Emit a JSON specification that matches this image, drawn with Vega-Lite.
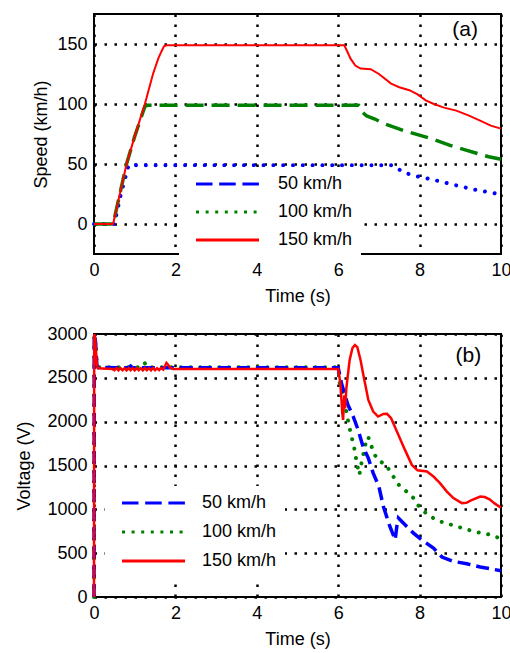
{
  "$schema": "https://vega.github.io/schema/vega-lite/v6.json",
  "padding": {"left": 14, "top": 13, "right": 0, "bottom": 0},
  "spacing": 18,
  "resolve": {
    "scale": {"color": "independent", "strokeDash": "independent", "strokeWidth": "independent"},
    "legend": {"color": "independent", "strokeDash": "independent", "strokeWidth": "independent"}
  },
  "datasets": {
    "speed": [
      {"s": "50 km/h", "t": 0, "v": 0}, {"s": "50 km/h", "t": 0.5, "v": 0}, {"s": "50 km/h", "t": 0.66, "v": 25}, {"s": "50 km/h", "t": 0.85, "v": 49},
      {"s": "50 km/h", "t": 7.3, "v": 49}, {"s": "50 km/h", "t": 7.45, "v": 46.5}, {"s": "50 km/h", "t": 7.6, "v": 43}, {"s": "50 km/h", "t": 7.9, "v": 40},
      {"s": "50 km/h", "t": 8.3, "v": 37.2}, {"s": "50 km/h", "t": 8.8, "v": 33}, {"s": "50 km/h", "t": 9.3, "v": 29}, {"s": "50 km/h", "t": 9.7, "v": 26.5}, {"s": "50 km/h", "t": 10, "v": 24.5},
      {"s": "100 km/h", "t": 0, "v": 0}, {"s": "100 km/h", "t": 0.47, "v": 0}, {"s": "100 km/h", "t": 0.8, "v": 50}, {"s": "100 km/h", "t": 1.0, "v": 73},
      {"s": "100 km/h", "t": 1.25, "v": 98}, {"s": "100 km/h", "t": 1.32, "v": 99}, {"s": "100 km/h", "t": 6.5, "v": 99}, {"s": "100 km/h", "t": 6.56, "v": 97},
      {"s": "100 km/h", "t": 6.6, "v": 93}, {"s": "100 km/h", "t": 6.7, "v": 90}, {"s": "100 km/h", "t": 6.9, "v": 87.5}, {"s": "100 km/h", "t": 7.1, "v": 84},
      {"s": "100 km/h", "t": 7.3, "v": 81.5}, {"s": "100 km/h", "t": 7.6, "v": 78}, {"s": "100 km/h", "t": 7.95, "v": 74.5}, {"s": "100 km/h", "t": 8.3, "v": 71},
      {"s": "100 km/h", "t": 8.75, "v": 65.5}, {"s": "100 km/h", "t": 9.1, "v": 62}, {"s": "100 km/h", "t": 9.4, "v": 59}, {"s": "100 km/h", "t": 9.7, "v": 56}, {"s": "100 km/h", "t": 10, "v": 54},
      {"s": "150 km/h", "t": 0, "v": 0}, {"s": "150 km/h", "t": 0.47, "v": 0}, {"s": "150 km/h", "t": 0.8, "v": 50}, {"s": "150 km/h", "t": 1.0, "v": 73},
      {"s": "150 km/h", "t": 1.25, "v": 100}, {"s": "150 km/h", "t": 1.45, "v": 125}, {"s": "150 km/h", "t": 1.58, "v": 138}, {"s": "150 km/h", "t": 1.66, "v": 144},
      {"s": "150 km/h", "t": 1.72, "v": 148}, {"s": "150 km/h", "t": 1.79, "v": 149}, {"s": "150 km/h", "t": 6.15, "v": 149}, {"s": "150 km/h", "t": 6.22, "v": 144},
      {"s": "150 km/h", "t": 6.3, "v": 138}, {"s": "150 km/h", "t": 6.42, "v": 132}, {"s": "150 km/h", "t": 6.55, "v": 129.5}, {"s": "150 km/h", "t": 6.8, "v": 129},
      {"s": "150 km/h", "t": 7.0, "v": 125}, {"s": "150 km/h", "t": 7.3, "v": 117}, {"s": "150 km/h", "t": 7.5, "v": 114}, {"s": "150 km/h", "t": 7.75, "v": 111.5},
      {"s": "150 km/h", "t": 7.95, "v": 108}, {"s": "150 km/h", "t": 8.15, "v": 103}, {"s": "150 km/h", "t": 8.35, "v": 100}, {"s": "150 km/h", "t": 8.6, "v": 97},
      {"s": "150 km/h", "t": 8.9, "v": 94.5}, {"s": "150 km/h", "t": 9.2, "v": 90.5}, {"s": "150 km/h", "t": 9.5, "v": 86}, {"s": "150 km/h", "t": 9.75, "v": 82}, {"s": "150 km/h", "t": 10, "v": 79.5}
    ],
    "volt": [
      {"s": "50 km/h", "t": 0, "v": 0}, {"s": "50 km/h", "t": 0.005, "v": 3000}, {"s": "50 km/h", "t": 0.04, "v": 2900}, {"s": "50 km/h", "t": 0.07, "v": 2650},
      {"s": "50 km/h", "t": 0.1, "v": 2618}, {"s": "50 km/h", "t": 0.85, "v": 2615}, {"s": "50 km/h", "t": 0.9, "v": 2635}, {"s": "50 km/h", "t": 0.95, "v": 2615},
      {"s": "50 km/h", "t": 6.0, "v": 2615}, {"s": "50 km/h", "t": 6.08, "v": 2438}, {"s": "50 km/h", "t": 6.24, "v": 2191}, {"s": "50 km/h", "t": 6.37, "v": 2058},
      {"s": "50 km/h", "t": 6.49, "v": 1906}, {"s": "50 km/h", "t": 6.61, "v": 1716}, {"s": "50 km/h", "t": 6.74, "v": 1584}, {"s": "50 km/h", "t": 6.86, "v": 1413},
      {"s": "50 km/h", "t": 7.0, "v": 1260}, {"s": "50 km/h", "t": 7.11, "v": 1032}, {"s": "50 km/h", "t": 7.27, "v": 804}, {"s": "50 km/h", "t": 7.4, "v": 653},
      {"s": "50 km/h", "t": 7.44, "v": 804}, {"s": "50 km/h", "t": 7.48, "v": 900}, {"s": "50 km/h", "t": 7.6, "v": 843}, {"s": "50 km/h", "t": 7.85, "v": 729},
      {"s": "50 km/h", "t": 8.05, "v": 653}, {"s": "50 km/h", "t": 8.34, "v": 558}, {"s": "50 km/h", "t": 8.55, "v": 456}, {"s": "50 km/h", "t": 8.83, "v": 406},
      {"s": "50 km/h", "t": 9.16, "v": 380}, {"s": "50 km/h", "t": 9.49, "v": 342}, {"s": "50 km/h", "t": 10, "v": 300},
      {"s": "100 km/h", "t": 0, "v": 0}, {"s": "100 km/h", "t": 0.005, "v": 3000}, {"s": "100 km/h", "t": 0.04, "v": 2900}, {"s": "100 km/h", "t": 0.07, "v": 2650},
      {"s": "100 km/h", "t": 0.1, "v": 2620}, {"s": "100 km/h", "t": 1.2, "v": 2620}, {"s": "100 km/h", "t": 1.25, "v": 2665}, {"s": "100 km/h", "t": 1.3, "v": 2620},
      {"s": "100 km/h", "t": 6.0, "v": 2620}, {"s": "100 km/h", "t": 6.04, "v": 2438}, {"s": "100 km/h", "t": 6.16, "v": 2210}, {"s": "100 km/h", "t": 6.24, "v": 2020},
      {"s": "100 km/h", "t": 6.29, "v": 1906}, {"s": "100 km/h", "t": 6.39, "v": 1709}, {"s": "100 km/h", "t": 6.47, "v": 1499}, {"s": "100 km/h", "t": 6.52, "v": 1393},
      {"s": "100 km/h", "t": 6.56, "v": 1500}, {"s": "100 km/h", "t": 6.61, "v": 1610}, {"s": "100 km/h", "t": 6.66, "v": 1720}, {"s": "100 km/h", "t": 6.7, "v": 1823},
      {"s": "100 km/h", "t": 6.76, "v": 1811}, {"s": "100 km/h", "t": 6.82, "v": 1716}, {"s": "100 km/h", "t": 6.9, "v": 1621}, {"s": "100 km/h", "t": 6.98, "v": 1556},
      {"s": "100 km/h", "t": 7.15, "v": 1519}, {"s": "100 km/h", "t": 7.31, "v": 1413}, {"s": "100 km/h", "t": 7.4, "v": 1337}, {"s": "100 km/h", "t": 7.52, "v": 1260},
      {"s": "100 km/h", "t": 7.68, "v": 1203}, {"s": "100 km/h", "t": 7.85, "v": 1128}, {"s": "100 km/h", "t": 8.01, "v": 1014}, {"s": "100 km/h", "t": 8.26, "v": 918},
      {"s": "100 km/h", "t": 8.51, "v": 861}, {"s": "100 km/h", "t": 8.92, "v": 804}, {"s": "100 km/h", "t": 9.33, "v": 748}, {"s": "100 km/h", "t": 9.74, "v": 710}, {"s": "100 km/h", "t": 10, "v": 665},
      {"s": "150 km/h", "t": 0, "v": 0}, {"s": "150 km/h", "t": 0.005, "v": 3000}, {"s": "150 km/h", "t": 0.03, "v": 2950}, {"s": "150 km/h", "t": 0.05, "v": 2800},
      {"s": "150 km/h", "t": 0.07, "v": 2650}, {"s": "150 km/h", "t": 0.1, "v": 2610}, {"s": "150 km/h", "t": 0.45, "v": 2600}, {"s": "150 km/h", "t": 0.5, "v": 2588},
      {"s": "150 km/h", "t": 0.55, "v": 2612}, {"s": "150 km/h", "t": 0.6, "v": 2585}, {"s": "150 km/h", "t": 0.65, "v": 2612}, {"s": "150 km/h", "t": 0.7, "v": 2588},
      {"s": "150 km/h", "t": 0.75, "v": 2610}, {"s": "150 km/h", "t": 0.8, "v": 2585}, {"s": "150 km/h", "t": 0.85, "v": 2612}, {"s": "150 km/h", "t": 0.9, "v": 2588},
      {"s": "150 km/h", "t": 0.95, "v": 2610}, {"s": "150 km/h", "t": 1.0, "v": 2585}, {"s": "150 km/h", "t": 1.05, "v": 2612}, {"s": "150 km/h", "t": 1.1, "v": 2588},
      {"s": "150 km/h", "t": 1.15, "v": 2610}, {"s": "150 km/h", "t": 1.2, "v": 2585}, {"s": "150 km/h", "t": 1.25, "v": 2612}, {"s": "150 km/h", "t": 1.3, "v": 2588},
      {"s": "150 km/h", "t": 1.35, "v": 2610}, {"s": "150 km/h", "t": 1.4, "v": 2585}, {"s": "150 km/h", "t": 1.45, "v": 2612}, {"s": "150 km/h", "t": 1.5, "v": 2588},
      {"s": "150 km/h", "t": 1.55, "v": 2610}, {"s": "150 km/h", "t": 1.6, "v": 2590}, {"s": "150 km/h", "t": 1.65, "v": 2612}, {"s": "150 km/h", "t": 1.7, "v": 2595},
      {"s": "150 km/h", "t": 1.75, "v": 2640}, {"s": "150 km/h", "t": 1.78, "v": 2670}, {"s": "150 km/h", "t": 1.82, "v": 2650}, {"s": "150 km/h", "t": 1.87, "v": 2615},
      {"s": "150 km/h", "t": 1.95, "v": 2600}, {"s": "150 km/h", "t": 6.0, "v": 2600}, {"s": "150 km/h", "t": 6.05, "v": 2450}, {"s": "150 km/h", "t": 6.08, "v": 2250},
      {"s": "150 km/h", "t": 6.1, "v": 2100}, {"s": "150 km/h", "t": 6.12, "v": 2020}, {"s": "150 km/h", "t": 6.15, "v": 2300}, {"s": "150 km/h", "t": 6.17, "v": 2150},
      {"s": "150 km/h", "t": 6.2, "v": 2380}, {"s": "150 km/h", "t": 6.28, "v": 2700}, {"s": "150 km/h", "t": 6.35, "v": 2840}, {"s": "150 km/h", "t": 6.41, "v": 2875},
      {"s": "150 km/h", "t": 6.47, "v": 2850}, {"s": "150 km/h", "t": 6.55, "v": 2700}, {"s": "150 km/h", "t": 6.61, "v": 2552}, {"s": "150 km/h", "t": 6.74, "v": 2248},
      {"s": "150 km/h", "t": 6.86, "v": 2115}, {"s": "150 km/h", "t": 6.98, "v": 2058}, {"s": "150 km/h", "t": 7.11, "v": 2088}, {"s": "150 km/h", "t": 7.2, "v": 2090},
      {"s": "150 km/h", "t": 7.3, "v": 2040}, {"s": "150 km/h", "t": 7.48, "v": 1849}, {"s": "150 km/h", "t": 7.64, "v": 1678}, {"s": "150 km/h", "t": 7.81, "v": 1507},
      {"s": "150 km/h", "t": 7.95, "v": 1445}, {"s": "150 km/h", "t": 8.18, "v": 1431}, {"s": "150 km/h", "t": 8.34, "v": 1374}, {"s": "150 km/h", "t": 8.5, "v": 1299},
      {"s": "150 km/h", "t": 8.67, "v": 1203}, {"s": "150 km/h", "t": 8.83, "v": 1128}, {"s": "150 km/h", "t": 9.04, "v": 1071}, {"s": "150 km/h", "t": 9.15, "v": 1075},
      {"s": "150 km/h", "t": 9.25, "v": 1100}, {"s": "150 km/h", "t": 9.49, "v": 1146}, {"s": "150 km/h", "t": 9.6, "v": 1140}, {"s": "150 km/h", "t": 9.72, "v": 1115},
      {"s": "150 km/h", "t": 9.85, "v": 1065}, {"s": "150 km/h", "t": 10, "v": 1020}
    ]
  },
  "vconcat": [
    {
      "width": 407,
      "height": 240,
      "layer": [
        {"data": {"name": "speed"}, "transform": [{"filter": "datum.s == '50 km/h'"}], "mark": {"type": "line", "color": "#0000ff", "strokeWidth": 4, "strokeDash": [0.01, 9.8], "strokeCap": "round"},
          "encoding": {
            "x": {"field": "t", "type": "quantitative", "scale": {"domain": [0, 10], "nice": false}, "axis": {"values": [0, 2, 4, 6, 8, 10], "title": "Time (s)"}},
            "y": {"field": "v", "type": "quantitative", "scale": {"domain": [-25, 175], "nice": false, "zero": false}, "axis": {"values": [0, 50, 100, 150], "title": "Speed (km/h)", "titlePadding": 6, "format": "d"}}
          }},
        {"data": {"name": "speed"}, "transform": [{"filter": "datum.s == '100 km/h'"}], "mark": {"type": "line", "color": "#008000", "strokeWidth": 3.5, "strokeDash": [18, 8]},
          "encoding": {"x": {"field": "t", "type": "quantitative"}, "y": {"field": "v", "type": "quantitative"}}},
        {"data": {"name": "speed"}, "transform": [{"filter": "datum.s == '150 km/h'"}], "mark": {"type": "line", "color": "#ff0000", "strokeWidth": 2},
          "encoding": {"x": {"field": "t", "type": "quantitative"}, "y": {"field": "v", "type": "quantitative"}}},
        {
          "data": {"name": "speed"},
          "transform": [{"filter": "datum.t == 0"}],
          "mark": {"type": "line"},
          "encoding": {
            "x": {"field": "t", "type": "quantitative"},
            "y": {"field": "v", "type": "quantitative"},
            "color": {"field": "s", "type": "nominal", "scale": {"domain": ["50 km/h", "100 km/h", "150 km/h"], "range": ["#0000ff", "#008000", "#ff0000"]},
              "legend": {"title": null, "orient": "none", "legendX": 85, "legendY": 153, "rowPadding": 10, "symbolType": "M0,0H12.6", "symbolSize": 100, "labelOffset": 73, "padding": 8, "fillColor": "white", "symbolFillColor": "transparent"}},
            "strokeDash": {"field": "s", "type": "nominal", "scale": {"domain": ["50 km/h", "100 km/h", "150 km/h"], "range": [[16.5, 6.7], [3, 6.6], [1, 0]]},
              "legend": {"title": null, "orient": "none", "legendX": 85, "legendY": 153, "rowPadding": 10, "symbolType": "M0,0H12.6", "symbolSize": 100, "labelOffset": 73, "padding": 8, "fillColor": "white", "symbolFillColor": "transparent"}},
            "strokeWidth": {"field": "s", "type": "nominal", "scale": {"domain": ["50 km/h", "100 km/h", "150 km/h"], "range": [3, 3, 2]},
              "legend": {"title": null, "orient": "none", "legendX": 85, "legendY": 153, "rowPadding": 10, "symbolType": "M0,0H12.6", "symbolSize": 100, "labelOffset": 73, "padding": 8, "fillColor": "white", "symbolFillColor": "transparent"}}
          }
        },
        {
          "data": {"values": [{"label": "(a)"}]},
          "mark": {"type": "text", "fontSize": 21, "font": "Liberation Sans", "color": "black", "align": "center", "baseline": "middle"},
          "encoding": {"x": {"datum": 9.12, "type": "quantitative"}, "y": {"datum": 162, "type": "quantitative"}, "text": {"field": "label", "type": "nominal"}}
        }
      ]
    },
    {
      "width": 407,
      "height": 263,
      "layer": [
        {"data": {"name": "volt"}, "transform": [{"filter": "datum.s == '100 km/h'"}], "mark": {"type": "line", "color": "#008000", "strokeWidth": 4, "strokeDash": [0.01, 9.6], "strokeCap": "round"},
          "encoding": {
            "x": {"field": "t", "type": "quantitative", "scale": {"domain": [0, 10], "nice": false}, "axis": {"values": [0, 2, 4, 6, 8, 10], "title": "Time (s)"}},
            "y": {"field": "v", "type": "quantitative", "scale": {"domain": [0, 3000], "nice": false}, "axis": {"values": [0, 500, 1000, 1500, 2000, 2500, 3000], "title": "Voltage (V)", "titlePadding": 13, "format": "d"}}
          }},
        {"data": {"name": "volt"}, "transform": [{"filter": "datum.s == '50 km/h'"}], "mark": {"type": "line", "color": "#0000ff", "strokeWidth": 3.5, "strokeDash": [13, 6]},
          "encoding": {"x": {"field": "t", "type": "quantitative"}, "y": {"field": "v", "type": "quantitative"}}},
        {"data": {"name": "volt"}, "transform": [{"filter": "datum.s == '150 km/h'"}], "mark": {"type": "line", "color": "#ff0000", "strokeWidth": 2.5},
          "encoding": {"x": {"field": "t", "type": "quantitative"}, "y": {"field": "v", "type": "quantitative"}}},
        {
          "data": {"name": "volt"},
          "transform": [{"filter": "datum.t == 0"}],
          "mark": {"type": "line"},
          "encoding": {
            "x": {"field": "t", "type": "quantitative"},
            "y": {"field": "v", "type": "quantitative"},
            "color": {"field": "s", "type": "nominal", "scale": {"domain": ["50 km/h", "100 km/h", "150 km/h"], "range": ["#0000ff", "#008000", "#ff0000"]},
              "legend": {"title": null, "orient": "none", "legendX": 11, "legendY": 152, "rowPadding": 11, "symbolType": "M0,0H12.6", "symbolSize": 100, "labelOffset": 71, "padding": 8, "fillColor": "white", "symbolFillColor": "transparent"}},
            "strokeDash": {"field": "s", "type": "nominal", "scale": {"domain": ["50 km/h", "100 km/h", "150 km/h"], "range": [[16.5, 6.7], [3, 6.6], [1, 0]]},
              "legend": {"title": null, "orient": "none", "legendX": 11, "legendY": 152, "rowPadding": 11, "symbolType": "M0,0H12.6", "symbolSize": 100, "labelOffset": 71, "padding": 8, "fillColor": "white", "symbolFillColor": "transparent"}},
            "strokeWidth": {"field": "s", "type": "nominal", "scale": {"domain": ["50 km/h", "100 km/h", "150 km/h"], "range": [3, 3, 2]},
              "legend": {"title": null, "orient": "none", "legendX": 11, "legendY": 152, "rowPadding": 11, "symbolType": "M0,0H12.6", "symbolSize": 100, "labelOffset": 71, "padding": 8, "fillColor": "white", "symbolFillColor": "transparent"}}
          }
        },
        {
          "data": {"values": [{"label": "(b)"}]},
          "mark": {"type": "text", "fontSize": 21, "font": "Liberation Sans", "color": "black", "align": "center", "baseline": "middle"},
          "encoding": {"x": {"datum": 9.2, "type": "quantitative"}, "y": {"datum": 2750, "type": "quantitative"}, "text": {"field": "label", "type": "nominal"}}
        }
      ]
    }
  ],
  "config": {
    "background": "white",
    "view": {"stroke": "black", "strokeWidth": 2},
    "axis": {
      "labelFont": "Liberation Sans", "titleFont": "Liberation Sans", "labelFontSize": 18, "titleFontSize": 18,
      "titleFontWeight": "normal", "labelColor": "black", "titleColor": "black",
      "domain": false, "ticks": false, "tickSize": 0, "labelPadding": 7, "labelFlush": false,
      "grid": true, "gridColor": "black", "gridOpacity": 1, "gridDash": [2.5, 7.5], "gridWidth": 2.5
    },
    "axisX": {"titlePadding": 8},
    "legend": {"labelFont": "Liberation Sans", "labelFontSize": 18, "labelColor": "black", "labelLimit": 300, "strokeColor": null}
  }
}
